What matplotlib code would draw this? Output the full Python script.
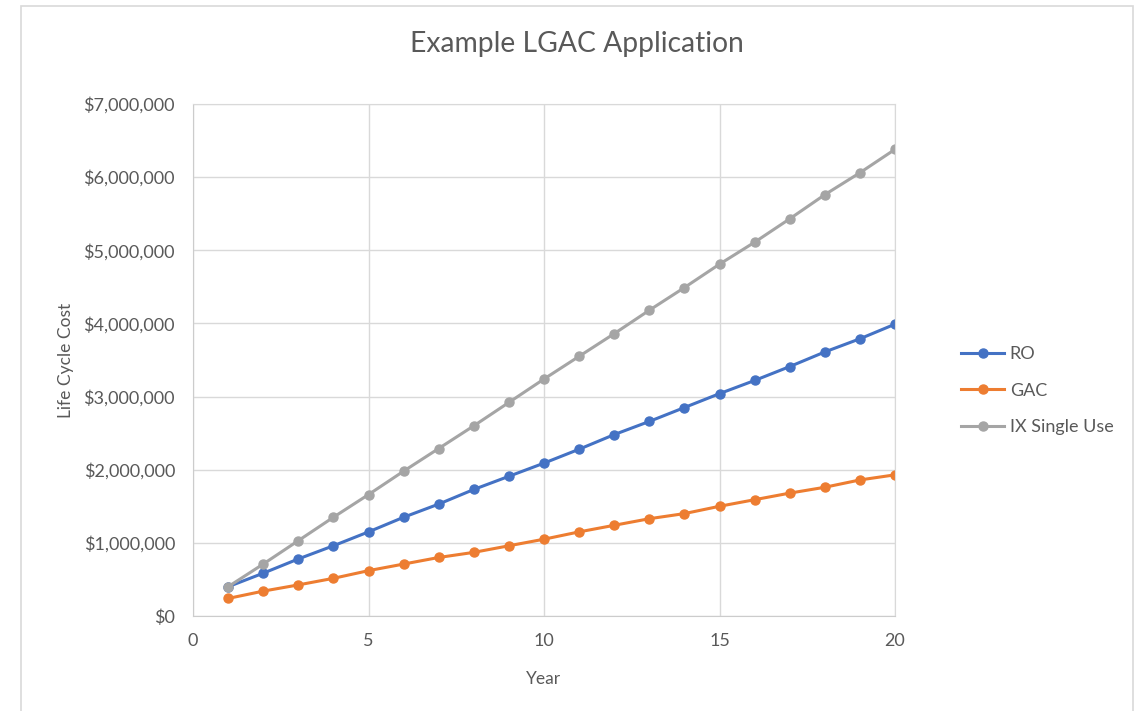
import matplotlib.pyplot as plt
from matplotlib.ticker import FuncFormatter
from matplotlib.patches import Rectangle

years = list(range(1, 21))
ro = [0.40, 0.585, 0.78, 0.96, 1.15, 1.35, 1.53, 1.73, 1.91, 2.09,
      2.28, 2.48, 2.66, 2.85, 3.04, 3.22, 3.41, 3.61, 3.79, 3.99]
gac = [0.24, 0.34, 0.425, 0.515, 0.62, 0.71, 0.80, 0.87, 0.96, 1.05,
       1.15, 1.24, 1.33, 1.40, 1.50, 1.59, 1.68, 1.76, 1.86, 1.93]
ix = [0.40, 0.71, 1.03, 1.35, 1.66, 1.98, 2.29, 2.60, 2.92, 3.24,
      3.55, 3.86, 4.18, 4.49, 4.81, 5.11, 5.43, 5.76, 6.06, 6.38]
# values read in $ millions
ro = [v * 1e6 for v in ro]
gac = [v * 1e6 for v in gac]
ix = [v * 1e6 for v in ix]

txt = '#595959'
plt.rcParams['font.family'] = ['Lato', 'DejaVu Sans']

fig = plt.figure(figsize=(11.42, 7.11), dpi=100)
# outer chart border
fig.patches.append(Rectangle((21 / 1142, -0.01), 1112 / 1142, 1.01 - 6 / 711,
                             transform=fig.transFigure, fill=False,
                             edgecolor='#d9d9d9', lw=1.2))
ax = fig.add_axes([193 / 1142, 1 - 616 / 711, 702 / 1142, 512 / 711])

ax.plot(years, ro, color='#4472C4', lw=2.2, marker='o', ms=6.5, label='RO')
ax.plot(years, gac, color='#ED7D31', lw=2.2, marker='o', ms=6.5, label='GAC')
ax.plot(years, ix, color='#A5A5A5', lw=2.2, marker='o', ms=6.5, label='IX Single Use')

ax.set_xlim(0, 20)
ax.set_ylim(0, 7e6)
ax.set_xticks([0, 5, 10, 15, 20])
ax.set_yticks([i * 1e6 for i in range(8)])
ax.yaxis.set_major_formatter(FuncFormatter(lambda v, p: '${:,.0f}'.format(v)))
ax.grid(True, color='#d9d9d9', lw=1)
ax.set_axisbelow(True)
for s in ax.spines.values():
    s.set_color('#d9d9d9')
ax.spines['left'].set_color('#cccccc')
ax.spines['bottom'].set_color('#cccccc')
ax.tick_params(length=0, labelsize=13, colors=txt)
ax.tick_params(axis='y', pad=13)
ax.tick_params(axis='x', pad=12)

# title is centred on the whole chart box, not on the plot area
fig.text(577 / 1142, 1 - 44 / 711, 'Example LGAC Application', fontsize=20.3,
         color=txt, ha='center', va='center')
ax.set_xlabel('Year', fontsize=12.5, color=txt, labelpad=16)
ax.set_ylabel('Life Cycle Cost', fontsize=12.5, color=txt, labelpad=7)

leg = ax.legend(loc='center left', bbox_to_anchor=(1.071, 0.44), frameon=False,
                fontsize=13, labelcolor=txt, handlelength=2.4, labelspacing=1.15,
                handletextpad=0.3)

plt.savefig('out.png', dpi=100)
